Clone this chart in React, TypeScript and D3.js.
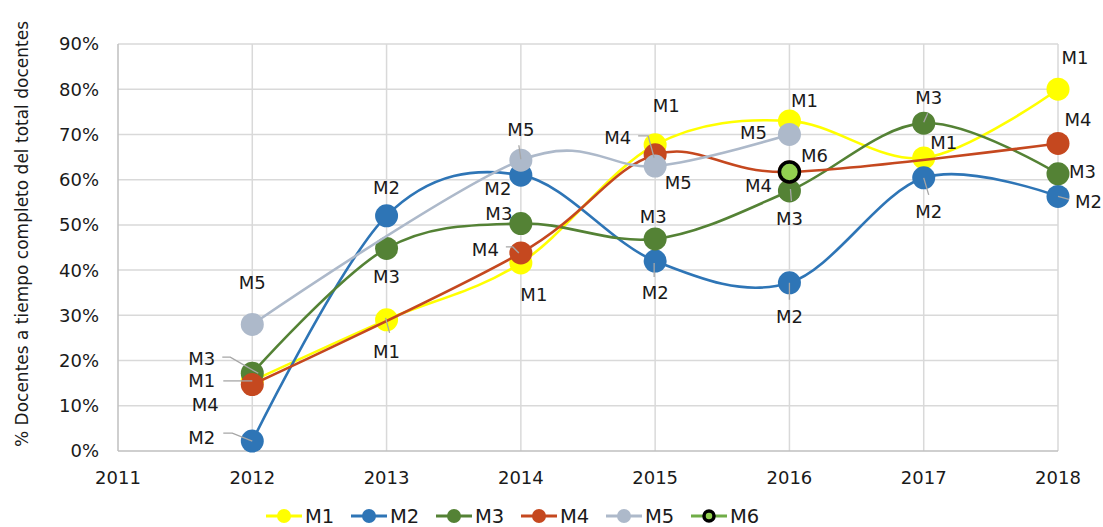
import React, { useEffect, useRef } from 'react';
import * as d3 from 'd3';

const years = [2012, 2013, 2014, 2015, 2016, 2017, 2018];
const yTicks = [0, 0.1, 0.2, 0.3, 0.4, 0.5, 0.6, 0.7, 0.8, 0.9];
const xTicks = [2011, 2012, 2013, 2014, 2015, 2016, 2017, 2018];

const m1 = [0.155, 0.29, 0.416, 0.677, 0.73, 0.648, 0.8];
const m2 = [0.022, 0.52, 0.61, 0.42, 0.372, 0.604, 0.563];
const m3 = [0.172, 0.448, 0.503, 0.469, 0.575, 0.725, 0.613];
const m4 = [0.147, null, 0.438, 0.655, 0.617, null, 0.68];
const m5 = [0.28, null, 0.643, 0.63, 0.7, null, null];
const m6 = [null, null, null, null, 0.617, null, null];

const seriesNames = ['M1', 'M2', 'M3', 'M4', 'M5', 'M6'];
const seriesValues = [m1, m2, m3, m4, m5, m6];
const lineColors = ['#FFFF00', '#2E75B6', '#548235', '#C5481F', '#ADB9CA', '#70AD47'];
const fillColors = ['#FFFF00', '#2E75B6', '#548235', '#C5481F', '#ADB9CA', '#92D050'];

// data label placement: series index, year index, offset from point, anchor, leader path (relative)
const labels: [number, number, number, number, string, number[][] | null][] = [
  [4, 0, 0, -42, 'middle', null],
  [2, 0, -37, -15, 'end', [[-30, -16], [-22, -16], [6, 0]]],
  [0, 0, -37, 0, 'end', [[-29, 0], [0, 0]]],
  [3, 0, -47, 20, 'middle', null],
  [1, 0, -37, -4, 'end', [[-29, -8], [-20, -8], [0, 0]]],
  [1, 1, 0, -28, 'middle', null],
  [2, 1, 0, 28, 'middle', null],
  [0, 1, 0, 32, 'middle', [[-1, -2], [3, 13]]],
  [4, 2, 0, -31, 'middle', [[-2, -15], [0, -1]]],
  [1, 2, -23, 13, 'middle', null],
  [2, 2, -22, -10, 'middle', null],
  [3, 2, -22, -3, 'end', [[-15, -6], [-8, -6], [-2, 0]]],
  [0, 2, 13, 32, 'middle', null],
  [0, 3, 11, -39, 'middle', null],
  [3, 3, -24, -17, 'end', [[-17, -19], [-7, -19], [-1, 3]]],
  [4, 3, 23, 16, 'middle', null],
  [2, 3, -2, -22, 'middle', null],
  [1, 3, 0, 31, 'middle', [[-1, 2], [-1, 16]]],
  [0, 4, 15, -20, 'middle', null],
  [4, 4, -36, -2, 'middle', null],
  [5, 4, 25, -16, 'middle', null],
  [3, 4, -31, 14, 'middle', null],
  [2, 4, 0, 28, 'middle', [[1, -2], [2, 10]]],
  [1, 4, 0, 34, 'middle', [[0, 0], [0, 17]]],
  [2, 5, 5, -26, 'middle', [[0, -1], [4, -10]]],
  [0, 5, 20, -15, 'middle', null],
  [1, 5, 5, 34, 'middle', [[0, 0], [5, 17]]],
  [0, 6, 17, -32, 'middle', null],
  [3, 6, 20, -24, 'middle', null],
  [2, 6, 11, -2, 'start', null],
  [1, 6, 17, 5, 'start', [[0, 0], [11, 3]]],
];

export default function App() {
  const svgRef = useRef<SVGSVGElement>(null);

  useEffect(() => {
    const W = 1103, H = 527;
    const left = 118, right = 1058, top = 44, bottom = 451;
    const font = '"DejaVu Sans", Verdana, sans-serif';
    const ink = '#1a1a1a';

    const svg = d3.select(svgRef.current);
    svg.selectAll('*').remove();
    svg.append('rect').attr('width', W).attr('height', H).attr('fill', '#fff');

    const x = d3.scaleLinear().domain([2011, 2018]).range([left, right]);
    const y = d3.scaleLinear().domain([0, 0.9]).range([bottom, top]);

    // grid
    const grid = svg.append('g');
    grid.selectAll('.hg').data(yTicks.slice(1)).enter().append('line')
      .attr('x1', left).attr('x2', right)
      .attr('y1', d => y(d)).attr('y2', d => y(d))
      .attr('stroke', '#d9d9d9').attr('stroke-width', 1.5);
    grid.selectAll('.vg').data(xTicks.slice(1)).enter().append('line')
      .attr('x1', d => x(d)).attr('x2', d => x(d))
      .attr('y1', top).attr('y2', bottom)
      .attr('stroke', '#d9d9d9').attr('stroke-width', 1.5);
    grid.append('line').attr('x1', left).attr('x2', left).attr('y1', top).attr('y2', bottom)
      .attr('stroke', '#bfbfbf').attr('stroke-width', 1.5);
    grid.append('line').attr('x1', left).attr('x2', right).attr('y1', bottom).attr('y2', bottom)
      .attr('stroke', '#bfbfbf').attr('stroke-width', 1.5);

    // axis labels
    svg.append('g').selectAll('text').data(yTicks).enter().append('text')
      .attr('x', 99).attr('y', d => y(d)).attr('dy', '0.36em')
      .attr('text-anchor', 'end').attr('font-family', font).attr('font-size', 18)
      .attr('fill', ink).text(d => d3.format('.0%')(d));
    svg.append('g').selectAll('text').data(xTicks).enter().append('text')
      .attr('x', d => x(d)).attr('y', 478).attr('dy', '0.36em')
      .attr('text-anchor', 'middle').attr('font-family', font).attr('font-size', 18)
      .attr('fill', ink).text(d => String(d));
    svg.append('text')
      .attr('transform', 'translate(22,234) rotate(-90)')
      .attr('text-anchor', 'middle').attr('dy', '0.36em')
      .attr('font-family', font).attr('font-size', 17).attr('fill', ink)
      .text('% Docentes a tiempo completo del total docentes');

    const line = d3.line<[number, number]>()
      .x(d => x(d[0])).y(d => y(d[1]))
      .curve(d3.curveCardinal.tension(0));

    seriesValues.forEach((vals, i) => {
      const pts = years.map((yr, j) => [yr, vals[j]] as [number, number | null])
        .filter(p => p[1] !== null) as [number, number][];
      const g = svg.append('g');
      if (pts.length > 1) {
        g.append('path').attr('d', line(pts) || '').attr('fill', 'none')
          .attr('stroke', lineColors[i]).attr('stroke-width', 2.6);
      }
      g.selectAll('circle').data(pts).enter().append('circle')
        .attr('cx', d => x(d[0])).attr('cy', d => y(d[1]))
        .attr('r', i === 5 ? 10 : 11.5)
        .attr('fill', fillColors[i])
        .attr('stroke', i === 5 ? '#000' : 'none')
        .attr('stroke-width', i === 5 ? 3.5 : 0);
    });

    // data labels
    const lg = svg.append('g');
    labels.forEach(([si, yi, dx, dy, anchor, leader]) => {
      const v = seriesValues[si][yi];
      if (v === null) return;
      const px = x(years[yi]), py = y(v);
      if (leader) {
        lg.append('path')
          .attr('d', d3.line()(leader.map(p => [px + p[0], py + p[1]] as [number, number])) || '')
          .attr('fill', 'none').attr('stroke', '#a6a6a6').attr('stroke-width', 1.3);
      }
      lg.append('text').attr('x', px + dx).attr('y', py + dy).attr('dy', '0.36em')
        .attr('text-anchor', anchor).attr('font-family', font).attr('font-size', 18)
        .attr('fill', ink).text(seriesNames[si]);
    });

    // legend
    const leg = svg.append('g');
    seriesNames.forEach((name, i) => {
      const lx = 266 + i * 85, ly = 516;
      leg.append('line').attr('x1', lx).attr('x2', lx + 36).attr('y1', ly).attr('y2', ly)
        .attr('stroke', lineColors[i]).attr('stroke-width', 3);
      leg.append('circle').attr('cx', lx + 18).attr('cy', ly).attr('r', i === 5 ? 5 : 7)
        .attr('fill', fillColors[i])
        .attr('stroke', i === 5 ? '#000' : 'none').attr('stroke-width', i === 5 ? 3.5 : 0);
      leg.append('text').attr('x', lx + 39).attr('y', ly).attr('dy', '0.36em')
        .attr('font-family', font).attr('font-size', 19.5).attr('fill', ink).text(name);
    });
  }, []);

  return (
    <svg ref={svgRef} width={1103} height={527}
      style={{ position: 'absolute', left: 0, top: 0, display: 'block' }} />
  );
}
